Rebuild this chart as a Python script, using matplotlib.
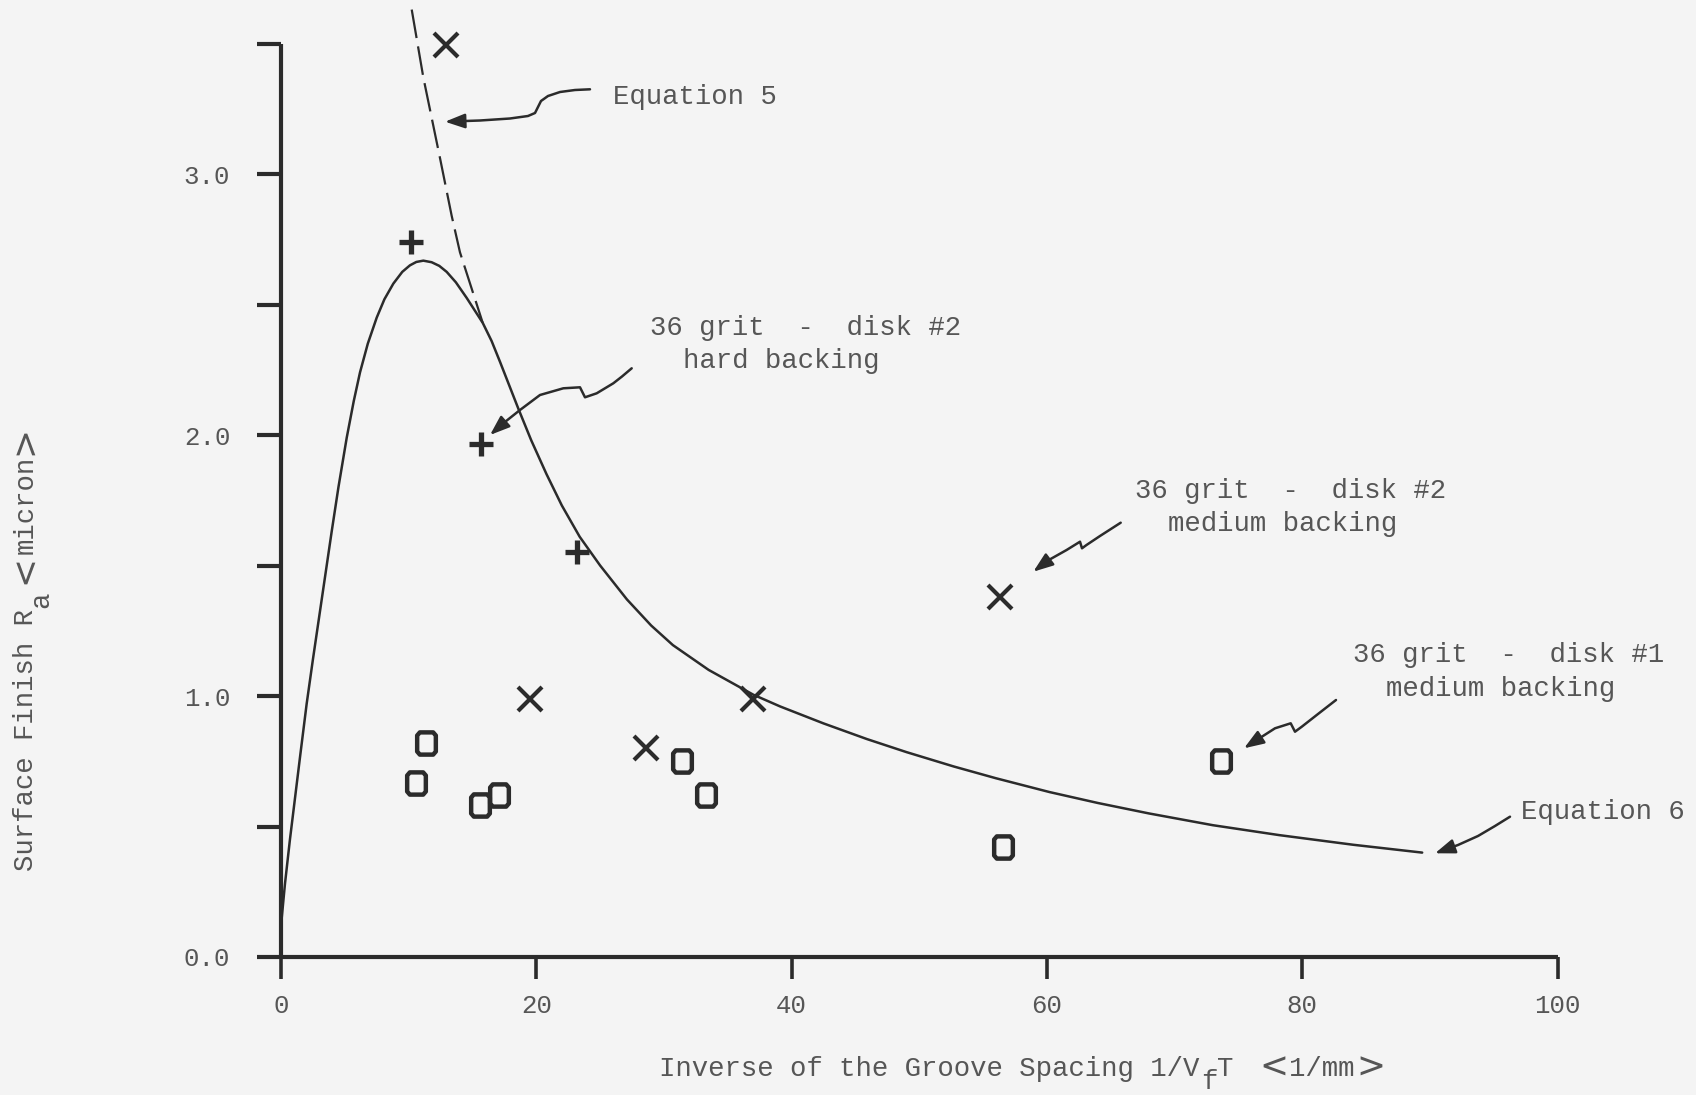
import matplotlib
matplotlib.use("Agg")
import matplotlib.pyplot as plt
from matplotlib.patches import FancyArrowPatch
from matplotlib.path import Path
from matplotlib.ticker import FixedLocator

# ---- data -----------------------------------------------------------------
# Equation 6 (solid model curve)
eq6_x = [0.0, 0.31, 0.7, 1.10, 1.5, 2.01, 2.5, 3.19, 3.97, 4.5, 5.15, 5.7, 6.19,
         6.8, 7.5, 8.1, 8.8, 9.5, 10.1, 10.6, 11.15, 11.8, 12.4, 12.98, 13.7,
         14.55, 15.8, 16.5, 17.16, 18.6, 19.6, 20.8, 22.0, 23.4, 25.0, 27.1,
         29.0, 30.7, 33.5, 37.0, 39.1, 42.5, 45.9, 49.0, 52.7, 56.0, 60.2, 64.0,
         68.0, 73.0, 78.2, 84.0, 89.4]
eq6_y = [0.12, 0.28, 0.45, 0.61, 0.77, 0.97, 1.14, 1.37, 1.63, 1.80, 1.99, 2.13,
         2.24, 2.35, 2.45, 2.52, 2.58, 2.625, 2.65, 2.663, 2.668, 2.662, 2.648,
         2.625, 2.585, 2.525, 2.43, 2.36, 2.28, 2.10, 1.98, 1.85, 1.73, 1.61,
         1.50, 1.37, 1.27, 1.195, 1.10, 1.005, 0.96, 0.895, 0.835, 0.785, 0.73,
         0.685, 0.632, 0.59, 0.55, 0.505, 0.467, 0.43, 0.40]

# Equation 5 (dashed model curve)
eq5_x = [10.24, 11.15, 12.46, 13.37, 14.02, 15.8]
eq5_y = [3.63, 3.37, 3.06, 2.84, 2.70, 2.43]

# 36 grit - disk #2, hard backing (+)
hard2_x = [10.18, 15.64, 23.16]
hard2_y = [2.74, 1.965, 1.55]

# 36 grit - disk #2, medium backing (x)
med2_x = [12.93, 19.5, 28.6, 37.0, 56.3]
med2_y = [3.494, 0.99, 0.80, 0.99, 1.38]

# 36 grit - disk #1, medium backing (o)
med1_x = [11.36, 10.55, 15.6, 17.1, 31.4, 33.3, 56.6, 73.6]
med1_y = [0.819, 0.668, 0.582, 0.62, 0.75, 0.62, 0.423, 0.75]

x_ticks = [0, 20, 40, 60, 80, 100]
x_tick_labels = ["0", "20", "40", "60", "80", "100"]
y_ticks = [0.0, 1.0, 2.0, 3.0]
y_tick_labels = ["0.0", "1.0", "2.0", "3.0"]
y_minor_ticks = [0.5, 1.5, 2.5, 3.5]

# ---- style ----------------------------------------------------------------
W, H, DPI = 1696, 1095, 100
PAPER = "#f4f4f4"
INK = "#2b2b2b"
TYPE = "#565656"
MONO = "Liberation Mono"
FS = 19.7
CW = 0.6 * FS * DPI / 72.0          # width of one typed character in pixels

plt.rcParams["font.family"] = [MONO, "DejaVu Sans"]

fig = plt.figure(figsize=(W / DPI, H / DPI), dpi=DPI, facecolor=PAPER)


def fp(x, y):
    """Figure pixel position (origin top-left) -> figure fraction."""
    return x / W, 1.0 - y / H


Y_TOP = 3.66
X0_PX, X100_PX, Y0_PX, PX_PER_Y = 281.0, 1557.5, 957.0, 261.0
left, right = X0_PX / W, X100_PX / W
bottom = 1.0 - Y0_PX / H
top = 1.0 - (Y0_PX - Y_TOP * PX_PER_Y) / H
ax = fig.add_axes([left, bottom, right - left, top - bottom])
ax.set_facecolor("none")
ax.set_xlim(0, 100)
ax.set_ylim(0, Y_TOP)

for s in ("top", "right"):
    ax.spines[s].set_visible(False)
ax.spines["left"].set_bounds(0, 3.5)
ax.spines["bottom"].set_bounds(0, 100)
for s in ("left", "bottom"):
    ax.spines[s].set_linewidth(3.0)
    ax.spines[s].set_color(INK)
    ax.spines[s].set_capstyle("butt")

ax.xaxis.set_major_locator(FixedLocator(x_ticks))
ax.set_xticklabels(x_tick_labels)
ax.yaxis.set_major_locator(FixedLocator(y_ticks))
ax.yaxis.set_minor_locator(FixedLocator(y_minor_ticks))
ax.set_yticklabels(y_tick_labels)
ax.tick_params(axis="y", which="both", direction="out", length=17, width=3.0,
               color=INK, pad=19.5, labelsize=18.5, labelcolor=TYPE)
ax.tick_params(axis="x", which="both", direction="out", length=15.5, width=2.6,
               color=INK, pad=11, labelsize=18.5, labelcolor=TYPE)

# ---- curves ---------------------------------------------------------------
ax.plot(eq6_x, eq6_y, color=INK, lw=1.8, solid_joinstyle="round",
        solid_capstyle="round", clip_on=False, zorder=3)
ax.plot(eq5_x, eq5_y, color=INK, lw=1.6, dashes=(13, 3.8), clip_on=False, zorder=3)

# ---- data marks -----------------------------------------------------------
o_mark = Path([(-0.42, -0.36), (-0.30, -0.5), (0.30, -0.5), (0.42, -0.36),
               (0.42, 0.36), (0.30, 0.5), (-0.30, 0.5), (-0.42, 0.36),
               (-0.42, -0.36)], closed=True)

ax.plot(hard2_x, hard2_y, ls="none", marker="+", ms=17.5, mew=3.8, color=INK,
        clip_on=False, zorder=4)
ax.plot(med2_x, med2_y, ls="none", marker="x", ms=17, mew=3.0, color=INK,
        clip_on=False, zorder=4)
ax.plot(med1_x, med1_y, ls="none", marker=o_mark, ms=16.0, mew=3.2, mfc="none",
        mec=INK, clip_on=False, zorder=4)

# ---- typed annotations ----------------------------------------------------
def typed(x, y, s, dx_chars=0, size=FS, family=MONO, dy=0.0):
    fx, fy = fp(x + dx_chars * CW, y + dy)
    fig.text(fx, fy, s, fontsize=size, family=family, color=TYPE,
             ha="left", va="baseline")


typed(613, 104, "Equation 5")
typed(650, 335, "36 grit  -  disk #2")
typed(650, 368, "hard backing", dx_chars=2)
typed(1135, 498, "36 grit  -  disk #2")
typed(1135, 531, "medium backing", dx_chars=2)
typed(1353, 662, "36 grit  -  disk #1")
typed(1353, 696, "medium backing", dx_chars=2)
typed(1521, 819, "Equation 6")

# hand-drawn pointer arrows
arrow_paths = [
    [(590, 89.3), (575, 90), (560, 92), (548, 96), (541, 101), (538, 107),
     (535, 113), (528, 116), (510, 118.5), (480, 120.5), (445, 121.7)],
    [(631.7, 368.3), (622, 376.5), (613.3, 383.3), (596.7, 393.3), (585, 397.3),
     (580, 387.3), (563.3, 388.3), (540, 395), (520, 410), (503.3, 423.3),
     (490, 435)],
    [(1120.7, 522.7), (1100, 536), (1086.5, 545), (1082, 548.3), (1080, 541.7),
     (1066.6, 550), (1048.8, 560), (1033.3, 571.7)],
    [(1336, 700), (1318, 714), (1301.8, 726.7), (1295, 731.7), (1290.7, 723.3),
     (1275, 728.3), (1261.9, 736.7), (1244, 748.3)],
    [(1510, 816.7), (1495, 826), (1478, 836), (1458, 845), (1435, 853.3)],
]
for pts in arrow_paths:
    verts = [fp(x, y) for x, y in pts]
    arr = FancyArrowPatch(path=Path(verts),
                          arrowstyle="-|>,head_length=0.6,head_width=0.22",
                          mutation_scale=20, lw=1.8, color=INK,
                          transform=fig.transFigure, joinstyle="round",
                          capstyle="round")
    fig.add_artist(arr)

# ---- axis titles (typed with subscripts) ----------------------------------
XL_X, XL_BASE = 659, 1076
typed(XL_X, XL_BASE, "Inverse of the Groove Spacing 1/V")
typed(XL_X, XL_BASE, "f", dx_chars=33, dy=13)
typed(XL_X, XL_BASE, "T", dx_chars=34)
typed(1259, XL_BASE + 2, "<", size=25, family="DejaVu Sans")
typed(1289, XL_BASE, "1/mm")
typed(1356, XL_BASE + 2, ">", size=25, family="DejaVu Sans")


def typed_v(x_base, y_start, s, size=FS, family=MONO, dy_chars=0):
    fx, fy = fp(x_base, y_start - dy_chars * CW)
    fig.text(fx, fy, s, fontsize=size, family=family, color=TYPE, rotation=90,
             rotation_mode="anchor", ha="left", va="baseline")


YL_BASE, YL_START = 33, 871
typed_v(YL_BASE, YL_START, "Surface Finish R")
typed_v(YL_BASE + 15, YL_START, "a", dy_chars=16)
typed_v(YL_BASE + 2, 584, "<", size=25, family="DejaVu Sans")
typed_v(YL_BASE, 554, "micron")
typed_v(YL_BASE + 2, 455, ">", size=25, family="DejaVu Sans")

fig.savefig("out.png", dpi=DPI, facecolor=PAPER)
